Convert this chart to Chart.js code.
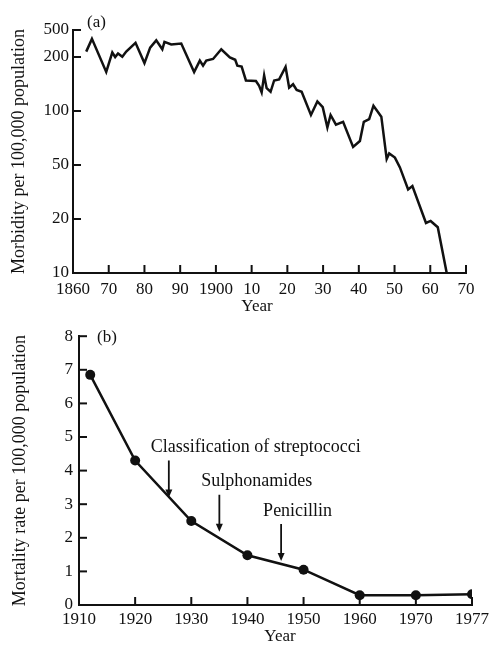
<!DOCTYPE html>
<html>
<head>
<meta charset="utf-8">
<script src="https://cdn.jsdelivr.net/npm/chart.js@4.4.1/dist/chart.umd.min.js"></script>
<style>
  html, body { margin: 0; padding: 0; background: #fff; }
  #wrap { width: 493px; height: 646px; }
  canvas { display: block; }
</style>
</head>
<body>
<div id="wrap">
  <canvas id="chartA" width="493" height="320"></canvas>
  <canvas id="chartB" width="493" height="326"></canvas>
</div>
<script>
// (a) morbidity
const YEARS_A = [1863.7, 1865.3, 1869.3, 1871.0, 1871.8, 1872.6, 1873.8, 1874.9, 1877.5, 1880.0,
  1881.6, 1883.3, 1885.0, 1885.6, 1887.5, 1890.3, 1893.9, 1895.5, 1896.4, 1897.3,
  1899.2, 1901.5, 1903.9, 1905.4, 1906.0, 1907.2, 1908.4, 1911.2, 1912.1, 1912.8,
  1913.5, 1914.2, 1915.3, 1916.3, 1917.7, 1919.5, 1920.5, 1921.6, 1922.6, 1924.0,
  1926.6, 1928.4, 1929.9, 1931.2, 1932.1, 1933.6, 1935.6, 1938.4, 1940.3, 1941.4,
  1942.9, 1944.1, 1946.3, 1947.8, 1948.5, 1950.1, 1951.5, 1953.8, 1955.0, 1958.8,
  1960.1, 1962.1, 1964.6];
const MORBIDITY = [240, 370, 165, 233, 200, 226, 202, 241, 324, 185,
  275, 352, 260, 334, 306, 316, 165, 191, 179, 191,
  195, 260, 199, 193, 179, 177, 148, 147, 138, 127,
  158, 134, 128, 148, 150, 176, 135, 141, 131, 128,
  95, 113, 105, 81, 95, 84, 87, 63, 68, 87,
  90, 107, 93, 54, 58, 55, 48, 33, 35, 19,
  19.5, 18, 10];
// the figure's y axis is irregular: 10..200 evenly spaced, 500 only half a step above 200
const Y_TICKS_A = [10, 20, 50, 100, 200, 500];
const Y_STEPS_A = [0, 1, 2, 3, 4, 4.5];

// (b) mortality
const YEARS_B = [1912, 1920, 1930, 1940, 1950, 1960, 1970, 1977];
const MORTALITY = [6.85, 4.3, 2.5, 1.48, 1.05, 0.29, 0.29, 0.32];
// 1977 sits a full step after 1970 on the original axis
const X_TICKS_B = [1910, 1920, 1930, 1940, 1950, 1960, 1970, 1977];
const X_STEPS_B = [0, 1, 2, 3, 4, 5, 6, 7];

const NOTES = ['Classification of streptococci', 'Sulphonamides', 'Penicillin'];
const NOTE_YEARS = [1926, 1935, 1946];
const NOTE_TIPS = [3.2, 2.18, 1.31];

const INK = '#111';
const SERIF = 'Liberation Serif, Times New Roman, serif';

// value -> position on a piecewise axis (log or linear inside each step)
function toAxis(v, ticks, steps, isLog) {
  const f = isLog ? Math.log : (x => x);
  let i = 0;
  while (i < ticks.length - 2 && v > ticks[i + 1]) i++;
  const frac = (f(v) - f(ticks[i])) / (f(ticks[i + 1]) - f(ticks[i]));
  return steps[i] + (steps[i + 1] - steps[i]) * frac;
}

// short tick marks pointing into the plot, like the print
const innerTicks = {
  id: 'innerTicks',
  afterDraw(chart) {
    const {ctx, chartArea} = chart;
    const len = 8;
    ctx.save();
    ctx.strokeStyle = INK;
    ctx.lineWidth = 2;
    chart.scales.x.ticks.slice(1).forEach(t => {
      const px = chart.scales.x.getPixelForValue(t.value);
      ctx.beginPath(); ctx.moveTo(px, chartArea.bottom); ctx.lineTo(px, chartArea.bottom - len); ctx.stroke();
    });
    chart.scales.y.ticks.slice(1).forEach(t => {
      const py = chart.scales.y.getPixelForValue(t.value);
      ctx.beginPath(); ctx.moveTo(chartArea.left, py); ctx.lineTo(chartArea.left + len, py); ctx.stroke();
    });
    ctx.restore();
  }
};

const freeText = {
  id: 'freeText',
  afterDraw(chart, args, opts) {
    const ctx = chart.ctx;
    ctx.save();
    ctx.fillStyle = INK;
    ctx.font = '17px ' + SERIF;
    ctx.textBaseline = 'middle';
    (opts.items || []).forEach(it => {
      ctx.textAlign = it.align || 'left';
      ctx.fillText(it.text, it.x, it.y);
    });
    ctx.restore();
  }
};

const arrows = {
  id: 'arrows',
  afterDatasetsDraw(chart) {
    const {ctx} = chart;
    const xs = chart.scales.x, ys = chart.scales.y;
    ctx.save();
    ctx.strokeStyle = INK; ctx.fillStyle = INK; ctx.lineWidth = 1.8;
    ctx.font = '18px ' + SERIF;
    ctx.textBaseline = 'middle'; ctx.textAlign = 'left';
    NOTES.forEach((txt, i) => {
      const x = xs.getPixelForValue(toAxis(NOTE_YEARS[i], X_TICKS_B, X_STEPS_B, false));
      const tip = ys.getPixelForValue(NOTE_TIPS[i]);
      const top = tip - 37;
      ctx.beginPath(); ctx.moveTo(x, top); ctx.lineTo(x, tip - 6); ctx.stroke();
      ctx.beginPath(); ctx.moveTo(x - 3.5, tip - 8); ctx.lineTo(x + 3.5, tip - 8); ctx.lineTo(x, tip); ctx.closePath(); ctx.fill();
      ctx.fillText(txt, x - 18, top - 13);
    });
    ctx.restore();
  }
};

const tickFont = {family: SERIF, size: 17};

new Chart(document.getElementById('chartA'), {
  type: 'line',
  data: {
    datasets: [{
      data: YEARS_A.map((yr, i) => ({x: yr, y: toAxis(MORBIDITY[i], Y_TICKS_A, Y_STEPS_A, true)})),
      borderColor: INK, borderWidth: 2.5, pointRadius: 0, tension: 0, fill: false
    }]
  },
  options: {
    responsive: false, animation: false, devicePixelRatio: 1,
    layout: {padding: {top: 30, right: 27, left: 0, bottom: 0}},
    plugins: {
      legend: {display: false}, tooltip: {enabled: false},
      freeText: {items: [{text: '(a)', x: 87, y: 23}, {text: 'Year', x: 257, y: 307, align: 'center'}]}
    },
    scales: {
      x: {
        type: 'linear', min: 1860, max: 1970,
        afterFit: s => { s.height = 47; },
        ticks: {stepSize: 10, padding: 6, font: tickFont, color: INK, maxRotation: 0, autoSkip: false,
          callback: v => (v === 1860 || v === 1900) ? String(v) : String(v % 100)},
        grid: {drawOnChartArea: false, drawTicks: false},
        border: {color: INK, width: 2}
      },
      y: {
        type: 'linear', min: 0, max: 4.5,
        afterBuildTicks: s => { s.ticks = Y_STEPS_A.map(v => ({value: v})); },
        afterFit: s => { s.width = 73; },
        ticks: {padding: 4, font: tickFont, color: INK,
          callback: v => { const i = Y_STEPS_A.indexOf(v); return i < 0 ? '' : String(Y_TICKS_A[i]); }},
        grid: {drawOnChartArea: false, drawTicks: false},
        border: {color: INK, width: 2},
        title: {display: true, text: 'Morbidity per 100,000 population', color: INK,
          font: {family: SERIF, size: 18}, padding: {top: 8, bottom: 0}}
      }
    }
  },
  plugins: [innerTicks, freeText]
});

new Chart(document.getElementById('chartB'), {
  type: 'line',
  data: {
    datasets: [{
      data: YEARS_B.map((yr, i) => ({x: toAxis(yr, X_TICKS_B, X_STEPS_B, false), y: MORTALITY[i]})),
      borderColor: INK, borderWidth: 2.5, tension: 0, fill: false,
      pointRadius: 5, pointBackgroundColor: INK, pointBorderColor: INK, pointBorderWidth: 0
    }]
  },
  options: {
    responsive: false, animation: false, devicePixelRatio: 1,
    layout: {padding: {top: 10, right: 20, left: 0, bottom: 0}},
    plugins: {
      legend: {display: false}, tooltip: {enabled: false},
      freeText: {items: [{text: '(b)', x: 97, y: 18}, {text: 'Year', x: 280, y: 317, align: 'center'}]}
    },
    scales: {
      x: {
        type: 'linear', min: 0, max: 7,
        afterBuildTicks: s => { s.ticks = X_STEPS_B.map(v => ({value: v})); },
        afterFit: s => { s.height = 41; },
        ticks: {padding: 4, font: tickFont, color: INK, maxRotation: 0, autoSkip: false,
          callback: v => { const i = X_STEPS_B.indexOf(v); return i < 0 ? '' : String(X_TICKS_B[i]); }},
        grid: {drawOnChartArea: false, drawTicks: false},
        border: {color: INK, width: 2}
      },
      y: {
        type: 'linear', min: 0, max: 8,
        afterFit: s => { s.width = 79; },
        ticks: {stepSize: 1, padding: 6, font: tickFont, color: INK},
        grid: {drawOnChartArea: false, drawTicks: false},
        border: {color: INK, width: 2},
        title: {display: true, text: 'Mortality rate per 100,000 population', color: INK,
          font: {family: SERIF, size: 18}, padding: {top: 9, bottom: 0}}
      }
    }
  },
  plugins: [innerTicks, freeText, arrows]
});
</script>
</body>
</html>
